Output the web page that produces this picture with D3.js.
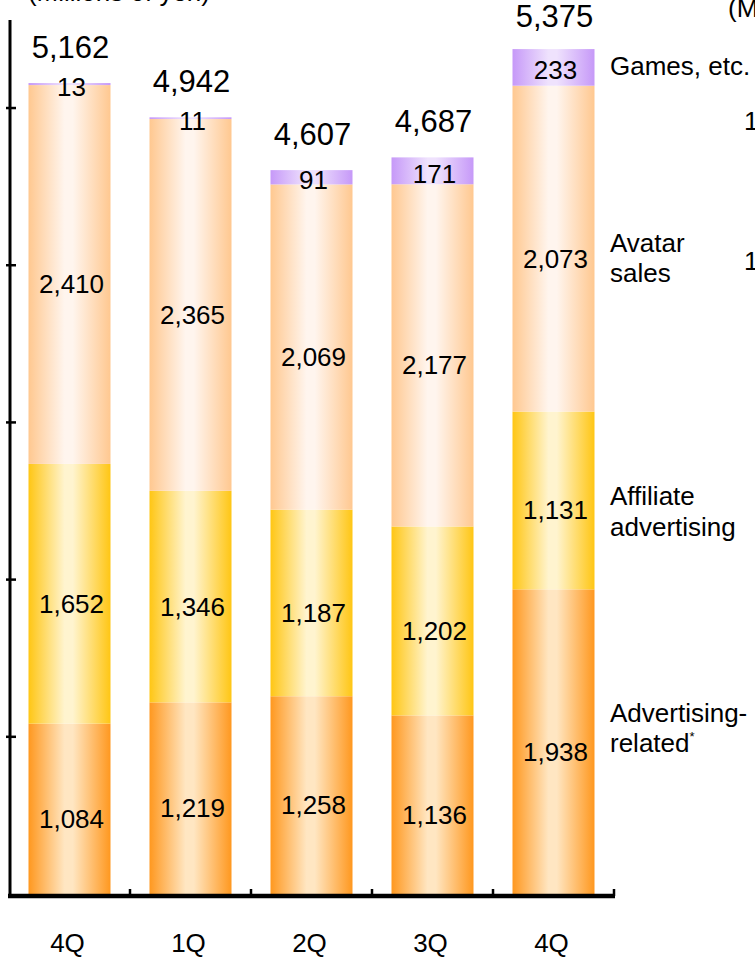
<!DOCTYPE html>
<html>
<head>
<meta charset="utf-8">
<script src="https://cdn.jsdelivr.net/npm/d3@7"></script>
<style>
  html, body { margin: 0; padding: 0; background: #fff; }
  svg { display: block; font-family: "Liberation Sans", Arial, sans-serif; }
</style>
</head>
<body>
<svg id="chart" width="755" height="957"></svg>
<script>
// ---- data ----
const categories = ["4Q", "1Q", "2Q", "3Q", "4Q"];
const seriesNames = ["Advertising-related", "Affiliate advertising", "Avatar sales", "Games, etc."];
const advertising = [1084, 1219, 1258, 1136, 1938];
const affiliate   = [1652, 1346, 1187, 1202, 1131];
const avatar      = [2410, 2365, 2069, 2177, 2073];
const games       = [13, 11, 91, 171, 233];
const totals      = [5162, 4942, 4607, 4687, 5375];
const yTicks      = [1000, 2000, 3000, 4000, 5000];
const unitLabel   = "(Millions of yen)";

// ---- styles ----
const palette = [
  { edge: "#ff981f", light: "#ffe6c2" },  // advertising
  { edge: "#ffc614", light: "#fff4cf" },  // affiliate
  { edge: "#ffc890", light: "#fff5ee" },  // avatar
  { edge: "#c699f8", light: "#efe2fd" }   // games
];

const svg = d3.select("#chart");
const defs = svg.append("defs");
palette.forEach((p, i) => {
  const g = defs.append("linearGradient").attr("id", "grad" + i)
    .attr("x1", "0%").attr("x2", "100%").attr("y1", "0%").attr("y2", "0%");
  g.append("stop").attr("offset", "0%").attr("stop-color", p.edge);
  g.append("stop").attr("offset", "44%").attr("stop-color", p.light);
  g.append("stop").attr("offset", "54%").attr("stop-color", p.light);
  g.append("stop").attr("offset", "100%").attr("stop-color", p.edge);
});

const x = d3.scaleBand().domain(d3.range(categories.length)).range([9, 614]).padding(0);
const barW = 82;
const y = d3.scaleLinear().domain([0, 5560]).range([894, 20]);

const rows = categories.map((c, i) => ({
  i, cat: c,
  advertising: advertising[i], affiliate: affiliate[i], avatar: avatar[i], games: games[i]
}));
const keys = ["advertising", "affiliate", "avatar", "games"];
const stacked = d3.stack().keys(keys)(rows);

const barX = i => x(i) + (x.step() - barW) / 2;

// bars
stacked.forEach((layer, li) => {
  svg.append("g").selectAll("rect").data(layer).enter().append("rect")
    .attr("x", d => barX(d.data.i))
    .attr("width", barW)
    .attr("y", d => y(d[1]))
    .attr("height", d => y(d[0]) - y(d[1]))
    .attr("fill", "url(#grad" + li + ")");
});

// segment labels
const fmt = d3.format(",");
stacked.forEach((layer, li) => {
  const off = li === 3 ? 12 : 19;
  svg.append("g").selectAll("text").data(layer).enter().append("text")
    .attr("x", d => barX(d.data.i) + barW / 2 + 2)
    .attr("y", d => (y(d[0]) + y(d[1])) / 2 + off)
    .attr("text-anchor", "middle")
    .attr("font-size", 26)
    .attr("fill", "#000")
    .text(d => fmt(d.data[layer.key]));
});

// totals
svg.append("g").selectAll("text").data(totals).enter().append("text")
  .attr("x", (d, i) => barX(i) + barW / 2 + 1)
  .attr("y", (d, i) => Math.max(y(stacked[3][i][1]) - 25, 27))
  .attr("text-anchor", "middle")
  .attr("font-size", 31)
  .text(d => fmt(d));

// axes
svg.append("line").attr("x1", 10).attr("x2", 10).attr("y1", y.range()[1]).attr("y2", 897)
  .attr("stroke", "#000").attr("stroke-width", 3);
svg.append("line").attr("x1", 8).attr("x2", 615).attr("y1", 896).attr("y2", 896)
  .attr("stroke", "#000").attr("stroke-width", 4.5);
svg.append("g").selectAll("line").data(yTicks).enter().append("line")
  .attr("x1", 6).attr("x2", 16).attr("y1", d => y(d)).attr("y2", d => y(d))
  .attr("stroke", "#000").attr("stroke-width", 2.5);
const bounds = d3.range(1, categories.length + 1).map(i => x(0) + i * x.step());
svg.append("g").selectAll("line").data(bounds).enter().append("line")
  .attr("x1", d => d).attr("x2", d => d).attr("y1", 889).attr("y2", 896)
  .attr("stroke", "#000").attr("stroke-width", 2.5);

// category labels
svg.append("g").selectAll("text").data(rows).enter().append("text")
  .attr("x", d => barX(d.i) + barW / 2 - 2)
  .attr("y", 952)
  .attr("text-anchor", "middle")
  .attr("font-size", 26)
  .text(d => d.cat);

// series labels on the right
const rl = svg.append("g").attr("font-size", 26);
const lastMid = i => (y(stacked[i][4][0]) + y(stacked[i][4][1])) / 2;
rl.append("text").attr("x", 610).attr("y", lastMid(3) + 8).text("Games, etc.");
const av = rl.append("text").attr("x", 610).attr("y", lastMid(2) + 3);
av.append("tspan").text("Avatar");
av.append("tspan").attr("x", 610).attr("dy", 30).text("sales");
const af = rl.append("text").attr("x", 610).attr("y", lastMid(1) + 5);
af.append("tspan").text("Affiliate");
af.append("tspan").attr("x", 610).attr("dy", 31).text("advertising");
const ad = rl.append("text").attr("x", 610).attr("y", lastMid(0) - 20);
ad.append("tspan").text("Advertising-");
ad.append("tspan").attr("x", 610).attr("dy", 30).text("related");
ad.append("tspan").attr("font-size", 13).attr("dy", -11).text("*");

// unit label (cut by the top edge) and clipped neighbour texts
svg.append("text").attr("x", 210).attr("y", 1).attr("text-anchor", "end")
  .attr("font-size", 26).text(unitLabel);
svg.append("text").attr("x", 728).attr("y", 17).attr("font-size", 26).text(unitLabel);
svg.append("text").attr("x", 744).attr("y", 130).attr("font-size", 26).text("1");
svg.append("text").attr("x", 744).attr("y", 270).attr("font-size", 26).text("1");
</script>
</body>
</html>
